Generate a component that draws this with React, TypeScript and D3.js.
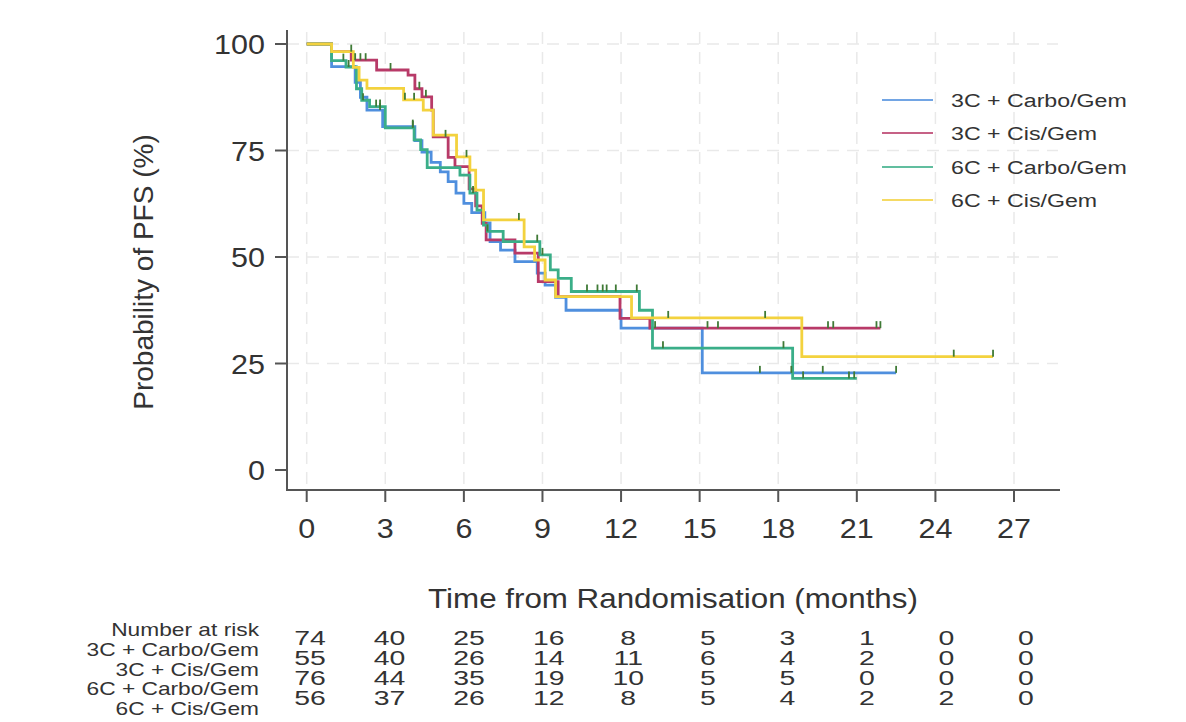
import * as d3 from 'd3'

// Kaplan-Meier step points for each arm: time (months) of each drop and PFS (%) after it
const blueTimes = [0, 0.95, 1.85, 2.05, 2.3, 2.9, 4.13, 4.4, 4.75, 5.1, 5.4, 5.7, 6.0, 6.3, 6.8, 7.0, 7.4, 7.95, 8.8, 9.1, 9.5, 9.9, 12.0, 15.1]
const blueSurv = [100, 94.7, 91, 87.5, 84.5, 80.6, 77.3, 74.6, 72.2, 70.0, 67.7, 65.0, 62.6, 60.4, 58.0, 53.6, 51.6, 48.9, 46.2, 43.4, 40.5, 37.5, 33.3, 22.8]
const blueEnd = 22.5
const blueCensor = [2.8, 4.05, 17.3, 18.5, 19.7, 22.5]

const redTimes = [0, 0.95, 1.7, 2.67, 3.87, 4.13, 4.4, 4.77, 4.83, 5.4, 5.66, 6.2, 6.45, 6.7, 6.85, 7.95, 8.84, 9.6, 11.96, 13.1]
const redSurv = [100, 98.2, 96.2, 93.9, 92.7, 89.5, 87.6, 84.5, 78.2, 73.4, 71.2, 66, 62, 57.9, 54.0, 50.9, 44.2, 40.7, 35.6, 33.3]
const redEnd = 21.9
const redCensor = [1.85, 2.05, 2.25, 3.2, 4.3, 4.55, 5.3, 13.3, 15.3, 15.7, 19.9, 20.1, 21.75, 21.9]

const greenTimes = [0, 0.95, 1.5, 1.9, 2.1, 2.4, 3.0, 4.1, 4.35, 4.6, 5.85, 6.23, 6.5, 6.75, 6.9, 7.5, 8.9, 9.3, 9.6, 10.1, 12.7, 13.2, 18.55]
const greenSurv = [100, 96.1, 94.6, 89.5, 86.8, 85.3, 80.3, 77.5, 75.2, 71.0, 69.2, 65, 61, 57.5, 56.0, 53.6, 50.5, 47.0, 45.0, 41.9, 37.5, 28.6, 21.5]
const greenEnd = 21.0
const greenCensor = [1.4, 1.6, 2.15, 2.65, 2.8, 4.05, 6.35, 6.9, 8.8, 9.0, 10.7, 11.1, 11.3, 11.45, 11.8, 12.6, 13.6, 18.2, 18.95, 20.7, 20.9]

const yellowTimes = [0, 0.95, 1.78, 2.0, 2.3, 3.7, 4.45, 4.83, 5.72, 6.23, 6.45, 6.75, 8.3, 8.7, 9.1, 9.5, 12.4, 18.9]
const yellowSurv = [100, 98.2, 94.5, 91.5, 89.6, 86.9, 84.5, 78.6, 73.5, 70.4, 65.7, 58.7, 52.4, 49.3, 44.6, 40.7, 35.7, 26.6]
const yellowEnd = 26.2
const yellowCensor = [1.7, 3.75, 4.1, 6.1, 8.1, 13.8, 17.5, 24.7, 26.2]

const armNames = ['3C + Carbo/Gem', '3C + Cis/Gem', '6C + Carbo/Gem', '6C + Cis/Gem']
const armColors = ['#4f8fde', '#b83a68', '#3aae88', '#f3d23e']

const xTicks = [0, 3, 6, 9, 12, 15, 18, 21, 24, 27]
const yTicks = [0, 25, 50, 75, 100]

// numbers at risk per arm, one value per x tick
const riskBlue = [74, 40, 25, 16, 8, 5, 3, 1, 0, 0]
const riskRed = [55, 40, 26, 14, 11, 6, 4, 2, 0, 0]
const riskGreen = [76, 44, 35, 19, 10, 5, 5, 0, 0, 0]
const riskYellow = [56, 37, 26, 12, 8, 5, 4, 2, 2, 0]

const FONT = '"Liberation Sans", Arial, Helvetica, sans-serif'
const INK = '#333'
const CENSOR = '#3f7a36'

type Arm = { times: number[]; surv: number[]; end: number; censor: number[] }

const arms: Arm[] = [
  { times: blueTimes, surv: blueSurv, end: blueEnd, censor: blueCensor },
  { times: redTimes, surv: redSurv, end: redEnd, censor: redCensor },
  { times: greenTimes, surv: greenSurv, end: greenEnd, censor: greenCensor },
  { times: yellowTimes, surv: yellowSurv, end: yellowEnd, censor: yellowCensor },
]
const riskRows = [riskBlue, riskRed, riskGreen, riskYellow]

// survival value in effect at time t
function survAt(arm: Arm, t: number) {
  let v = arm.surv[0]
  for (let i = 0; i < arm.times.length; i++) {
    if (arm.times[i] <= t) v = arm.surv[i]
  }
  return v
}

// horizontally widened text
function WideText({ x, y, sx, size, anchor = 'start', children }: any) {
  return (
    <text
      transform={`translate(${x},${y}) scale(${sx},1)`}
      textAnchor={anchor}
      dominantBaseline="central"
      fontSize={size}
      fontFamily={FONT}
      fill={INK}
    >
      {children}
    </text>
  )
}

export default function App() {
  const width = 1186
  const height = 722

  const x = d3.scaleLinear().domain([0, 27]).range([306.7, 1014])
  const y = d3.scaleLinear().domain([0, 100]).range([470, 44])
  const riskX = d3.scaleLinear().domain([0, 27]).range([310, 1026])

  const axisX = 287
  const axisY = 490

  const line = d3
    .line<[number, number]>()
    .x(d => x(d[0]))
    .y(d => y(d[1]))
    .curve(d3.curveStepAfter)

  const legendY = [100, 133, 167, 200]
  const labelY = [650, 669.5, 689, 708.5]
  const numberY = [638, 658, 678, 698]

  return (
    <svg width={width} height={height} style={{ position: 'absolute', left: 0, top: 0, background: '#fff' }}>
      <rect width={width} height={height} fill="#fff" />

      {/* dashed grid */}
      {xTicks.map(t => (
        <line key={`gx${t}`} x1={x(t)} x2={x(t)} y1={32} y2={axisY} stroke="#e9e9e9" strokeWidth={1.5} strokeDasharray="12,8" />
      ))}
      {yTicks.filter(t => t > 0).map(t => (
        <line key={`gy${t}`} x1={axisX} x2={1058} y1={y(t)} y2={y(t)} stroke="#e9e9e9" strokeWidth={1.5} strokeDasharray="12,8" />
      ))}

      {/* survival curves */}
      {arms.map((arm, i) => {
        const pts: [number, number][] = arm.times.map((t, j) => [t, arm.surv[j]])
        pts.push([arm.end, arm.surv[arm.surv.length - 1]])
        return <path key={armNames[i]} d={line(pts) || ''} fill="none" stroke={armColors[i]} strokeWidth={2.8} />
      })}

      {/* censoring marks */}
      {arms.map((arm, i) =>
        arm.censor.map((t, j) => {
          const v = survAt(arm, t)
          return (
            <line key={`c${i}-${j}`} x1={x(t)} x2={x(t)} y1={y(v)} y2={y(v) - 7} stroke={CENSOR} strokeWidth={1.8} />
          )
        })
      )}

      {/* axes */}
      <line x1={axisX} x2={axisX} y1={30} y2={axisY + 1} stroke="#555" strokeWidth={2} />
      <line x1={axisX - 1} x2={1060} y1={axisY} y2={axisY} stroke="#555" strokeWidth={2} />
      {yTicks.map(t => (
        <g key={`yt${t}`}>
          <line x1={axisX - 12} x2={axisX} y1={y(t)} y2={y(t)} stroke="#555" strokeWidth={2} />
          <WideText x={265} y={y(t)} sx={1.09} size={28} anchor="end">{t}</WideText>
        </g>
      ))}
      {xTicks.map(t => (
        <g key={`xt${t}`}>
          <line x1={x(t)} x2={x(t)} y1={axisY} y2={axisY + 12} stroke="#555" strokeWidth={2} />
          <WideText x={x(t)} y={528} sx={1.09} size={28} anchor="middle">{t}</WideText>
        </g>
      ))}

      <text
        transform="translate(143,272) rotate(-90)"
        textAnchor="middle"
        dominantBaseline="central"
        fontSize={28}
        fontFamily={FONT}
        fill={INK}
      >
        Probability of PFS (%)
      </text>
      <WideText x={673} y={598} sx={1.1} size={28.5} anchor="middle">Time from Randomisation (months)</WideText>

      {/* legend */}
      {armNames.map((name, i) => (
        <g key={`lg${i}`}>
          <line x1={882} x2={933} y1={legendY[i]} y2={legendY[i]} stroke={armColors[i]} strokeWidth={2} opacity={0.8} />
          <WideText x={951} y={legendY[i]} sx={1.22} size={19}>{name}</WideText>
        </g>
      ))}

      {/* number at risk table */}
      <WideText x={259} y={630} sx={1.3} size={17.5} anchor="end">Number at risk</WideText>
      {armNames.map((name, i) => (
        <WideText key={`rl${i}`} x={259} y={labelY[i]} sx={1.3} size={17.5} anchor="end">{name}</WideText>
      ))}
      {riskRows.map((row, i) =>
        row.map((n, j) => (
          <WideText key={`rn${i}-${j}`} x={riskX(xTicks[j])} y={numberY[i]} sx={1.42} size={20} anchor="middle">{n}</WideText>
        ))
      )}
    </svg>
  )
}
